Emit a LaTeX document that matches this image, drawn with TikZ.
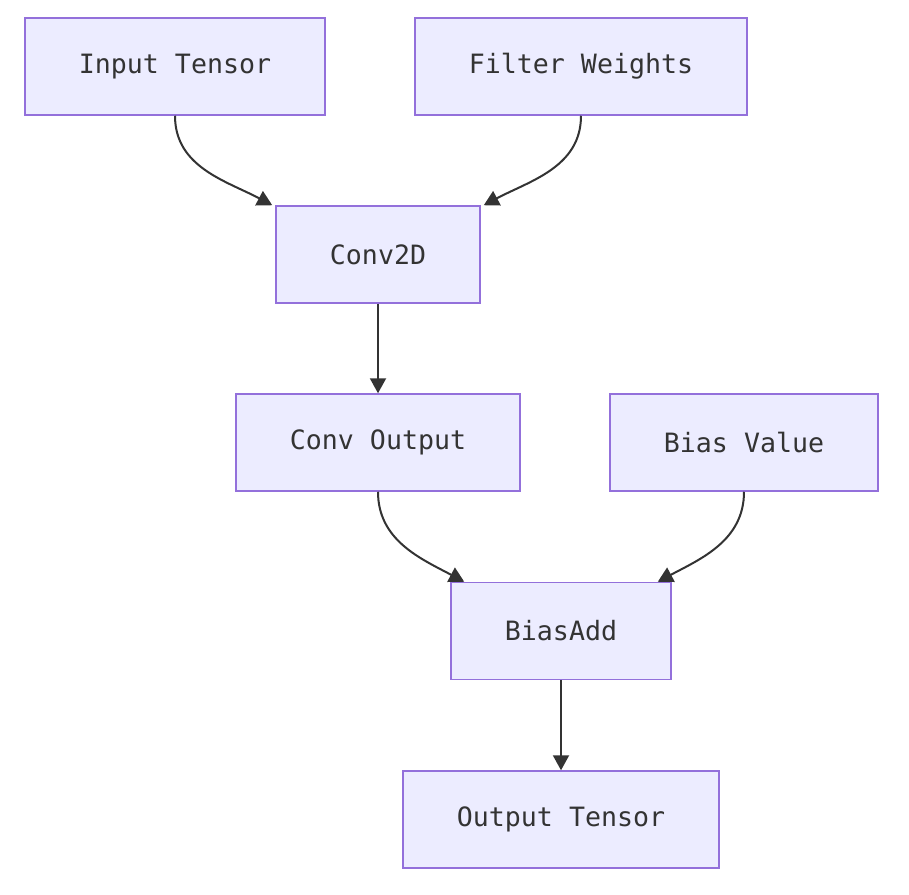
\documentclass[tikz,border=0pt]{standalone}
\usepackage{fontspec}
\setmonofont{DejaVu Sans Mono}
\usetikzlibrary{arrows.meta}
\definecolor{boxfill}{HTML}{ECECFF}
\definecolor{boxline}{HTML}{9370DB}
\definecolor{ink}{HTML}{333333}
\tikzset{
  opbox/.style={draw=boxline, fill=boxfill, line width=0.75pt, inner sep=0pt,
    minimum height=48.5pt, text=ink, font=\fontsize{13.3}{15}\selectfont\ttfamily},
  edge/.style={draw=ink, line width=1pt, -{Triangle[length=7.5pt,width=8pt]}}
}

\begin{document}
\begin{tikzpicture}[x=0.5pt, y=-0.5pt]
  \useasboundingbox (0,0) rectangle (909,894);
  \node[opbox, minimum width=150pt] (input) at (175,66.5) {Input Tensor};
  \node[opbox, minimum width=166pt] (filter) at (581,66.5) {Filter Weights};
  \node[opbox, minimum width=102pt] (conv) at (378,254.5) {Conv2D};
  \node[opbox, minimum width=142pt] (convout) at (378,442.5) {Conv Output};
  \node[opbox, minimum width=134pt] (bias) at (744,442.5) {Bias Value};
  \node[opbox, minimum width=110pt] (biasadd) at (561,631) {BiasAdd};
  \node[opbox, minimum width=158pt] (output) at (561,819.5) {Output Tensor};
  % convolution
  \draw[edge] (input.south) to[out=-90, in=152] ([xshift=-1.5pt]conv.north west);
  \draw[edge] (filter.south) to[out=-90, in=28] ([xshift=1.5pt]conv.north east);
  \draw[edge] (conv) -- (convout);
  % bias
  \draw[edge] (convout.south) to[out=-90, in=152] ([xshift=7pt]biasadd.north west);
  \draw[edge] (bias.south) to[out=-90, in=28] ([xshift=-7pt]biasadd.north east);
  \draw[edge] (biasadd) -- (output);
\end{tikzpicture}
\end{document}
